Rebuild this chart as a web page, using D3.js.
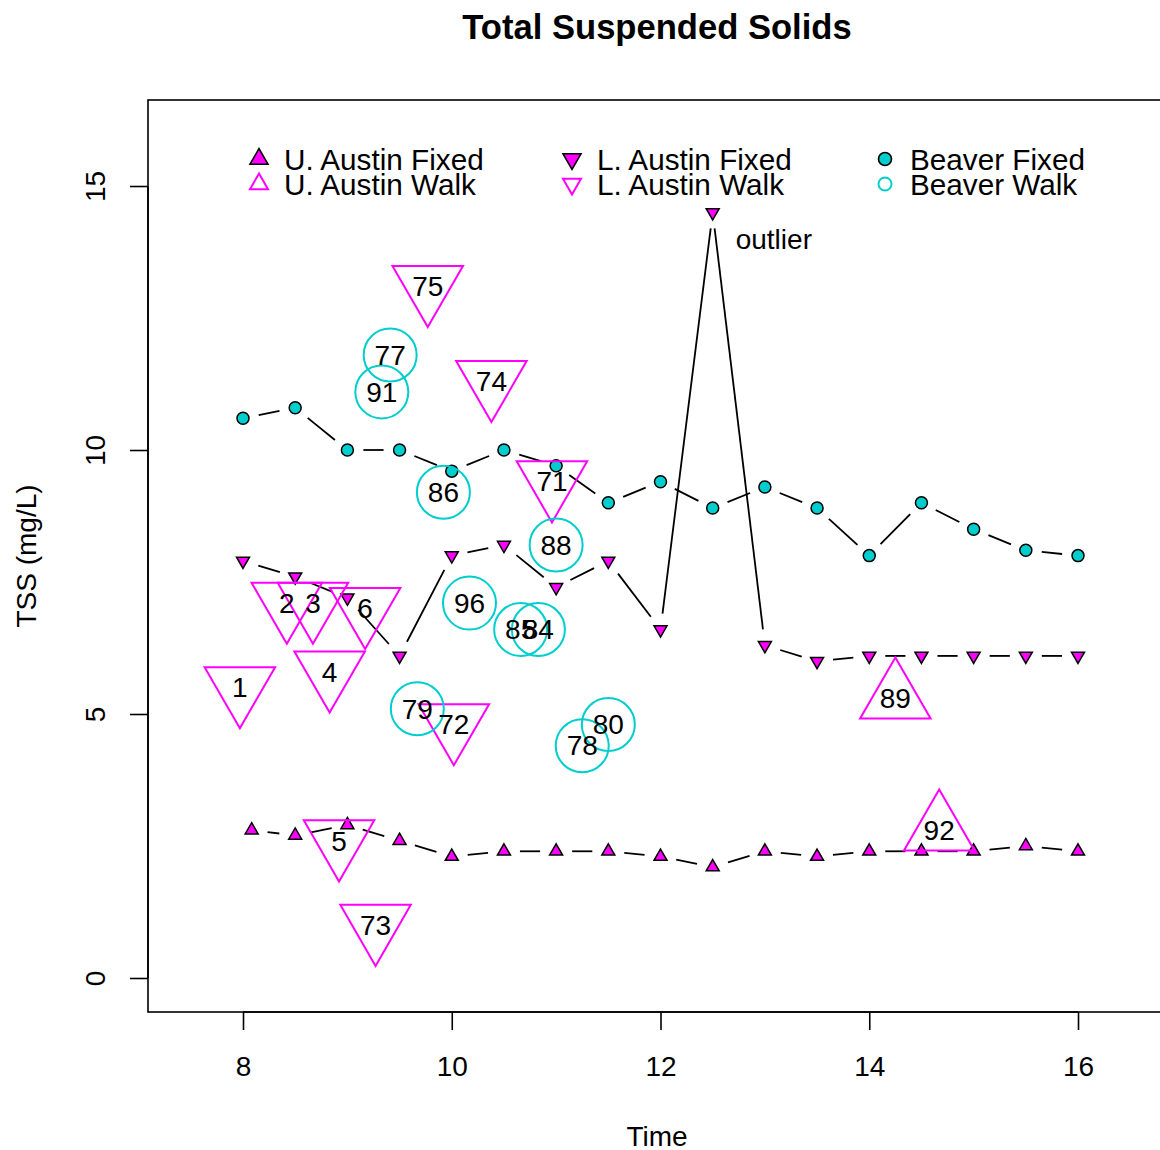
<!DOCTYPE html>
<html>
<head>
<meta charset="utf-8">
<script src="https://cdn.jsdelivr.net/npm/d3@7/dist/d3.min.js"></script>
<style>
  html, body { margin: 0; padding: 0; background: #fff; }
  svg { display: block; }
  text { font-family: "Liberation Sans", Arial, Helvetica, sans-serif; }
</style>
</head>
<body>
<svg id="chart" width="1160" height="1150"></svg>
<script>
// ---------------- DATA ----------------
const fixedTimes = [8, 8.5, 9, 9.5, 10, 10.5, 11, 11.5, 12, 12.5, 13, 13.5, 14, 14.5, 15, 15.5, 16];
const uAustinFixedTimes = [8.083, 8.5, 9, 9.5, 10, 10.5, 11, 11.5, 12, 12.5, 13, 13.5, 14, 14.5, 15, 15.5, 16];
const uAustinFixedTSS = [2.8, 2.7, 2.9, 2.6, 2.3, 2.4, 2.4, 2.4, 2.3, 2.1, 2.4, 2.3, 2.4, 2.4, 2.4, 2.5, 2.4];
const lAustinFixedTSS = [7.9, 7.6, 7.2, 6.1, 8.0, 8.2, 7.4, 7.9, 6.6, 14.5, 6.3, 6.0, 6.1, 6.1, 6.1, 6.1, 6.1];
const beaverFixedTSS  = [10.6, 10.8, 10.0, 10.0, 9.6, 10.0, 9.7, 9.0, 9.4, 8.9, 9.3, 8.9, 8.0, 9.0, 8.5, 8.1, 8.0];

const uAustinWalkID   = ["89", "92"];
const uAustinWalkTime = [14.25, 14.67];
const uAustinWalkTSS  = [5.3, 2.8];

const lAustinWalkID   = ["1", "2", "3", "4", "5", "6", "71", "72", "73", "74", "75"];
const lAustinWalkTime = [7.97, 8.42, 8.67, 8.83, 8.92, 9.17, 10.96, 10.02, 9.27, 10.38, 9.77];
const lAustinWalkTSS  = [5.5, 7.1, 7.1, 5.8, 2.6, 7.0, 9.4, 4.8, 1.0, 11.3, 13.1];

const beaverWalkID   = ["77", "78", "79", "80", "84", "85", "86", "88", "91", "96"];
const beaverWalkTime = [9.41, 11.25, 9.67, 11.5, 10.83, 10.66, 9.92, 11.0, 9.33, 10.17];
const beaverWalkTSS  = [11.8, 4.4, 5.1, 4.8, 6.6, 6.6, 9.2, 8.2, 11.1, 7.1];

const xTicks = [8, 10, 12, 14, 16];
const yTicks = [0, 5, 10, 15];
const legendLabels = ["U. Austin Fixed", "U. Austin Walk", "L. Austin Fixed", "L. Austin Walk", "Beaver Fixed", "Beaver Walk"];
const outlierNote = { time: 12.5, tss: 14.0, text: "outlier" };

// ---------------- LAYOUT ----------------
const MAGENTA = "#FF00FF";
const CYAN = "#00CDCD";
const plot = { left: 148, top: 100, right: 1166, bottom: 1012 };

const svg = d3.select("#chart");
const x = d3.scaleLinear().domain([7.0898, 16.843]).range([plot.left, plot.right]);
const y = d3.scaleLinear().domain([-0.644, 16.629]).range([plot.bottom, plot.top]);

// triangle path: centroid at (cx,cy), r = distance centroid->apex
function triPath(cx, cy, r, up) {
  const xc = r * 0.866;
  if (up) {
    return `M${cx},${cy - r}L${cx + xc},${cy + r / 2}L${cx - xc},${cy + r / 2}Z`;
  }
  return `M${cx},${cy + r}L${cx + xc},${cy - r / 2}L${cx - xc},${cy - r / 2}Z`;
}

// type="b" style line with gaps around points
function gappedLines(times, vals, gap) {
  const g = svg.append("g");
  for (let i = 0; i < times.length - 1; i++) {
    const x1 = x(times[i]), y1 = y(vals[i]), x2 = x(times[i + 1]), y2 = y(vals[i + 1]);
    const dx = x2 - x1, dy = y2 - y1, L = Math.hypot(dx, dy);
    if (L <= 2 * gap) continue;
    const ux = dx / L, uy = dy / L;
    g.append("line")
      .attr("x1", x1 + ux * gap).attr("y1", y1 + uy * gap)
      .attr("x2", x2 - ux * gap).attr("y2", y2 - uy * gap)
      .attr("stroke", "#000").attr("stroke-width", 1.8);
  }
}

// ---------------- TITLE & AXES ----------------
svg.append("text")
  .attr("x", (plot.left + plot.right) / 2).attr("y", 39)
  .attr("text-anchor", "middle").attr("font-size", 34.6).attr("font-weight", "bold")
  .text("Total Suspended Solids");

// box
svg.append("rect")
  .attr("x", plot.left).attr("y", plot.top)
  .attr("width", plot.right - plot.left).attr("height", plot.bottom - plot.top)
  .attr("fill", "none").attr("stroke", "#000").attr("stroke-width", 1.6);

// x axis
const xAxis = d3.axisBottom(x).tickValues(xTicks).tickSize(18).tickPadding(26).tickFormat(d3.format("d"));
const gx = svg.append("g").attr("transform", `translate(0,${plot.bottom})`).call(xAxis);
gx.select(".domain").remove();
gx.selectAll(".tick line").attr("stroke-width", 1.6);
gx.selectAll(".tick text").attr("font-size", 28).attr("font-family", "Liberation Sans, Arial, sans-serif").attr("fill", "#000");
gx.append("line").attr("x1", x(xTicks[0])).attr("x2", x(xTicks[xTicks.length - 1]))
  .attr("y1", 0).attr("y2", 0).attr("stroke", "#000").attr("stroke-width", 1.6);

// y axis
const yAxis = d3.axisLeft(y).tickValues(yTicks).tickSize(18).tickFormat(d3.format("d"));
const gy = svg.append("g").attr("transform", `translate(${plot.left},0)`).call(yAxis);
gy.select(".domain").remove();
gy.selectAll(".tick line").attr("stroke-width", 1.6);
gy.selectAll(".tick text")
  .attr("font-size", 28).attr("font-family", "Liberation Sans, Arial, sans-serif").attr("fill", "#000")
  .attr("text-anchor", "middle").attr("x", null).attr("dy", null)
  .attr("transform", "translate(-43,0) rotate(-90)");
gy.append("line").attr("y1", y(yTicks[0])).attr("y2", y(yTicks[yTicks.length - 1]))
  .attr("x1", 0).attr("x2", 0).attr("stroke", "#000").attr("stroke-width", 1.6);

svg.append("text")
  .attr("x", (plot.left + plot.right) / 2).attr("y", 1146)
  .attr("text-anchor", "middle").attr("font-size", 28).text("Time");
svg.append("text")
  .attr("transform", `translate(36,${(plot.top + plot.bottom) / 2}) rotate(-90)`)
  .attr("text-anchor", "middle").attr("font-size", 28).text("TSS (mg/L)");

// ---------------- FIXED SERIES ----------------
const GAP = 16;
gappedLines(uAustinFixedTimes, uAustinFixedTSS, GAP);
gappedLines(fixedTimes, lAustinFixedTSS, GAP);
gappedLines(fixedTimes, beaverFixedTSS, GAP);

const FR = 7.5;
svg.append("g").selectAll("path").data(uAustinFixedTSS).join("path")
  .attr("d", (d, i) => triPath(x(uAustinFixedTimes[i]), y(d), FR, true))
  .attr("fill", MAGENTA).attr("stroke", "#000").attr("stroke-width", 1.5);
svg.append("g").selectAll("path").data(lAustinFixedTSS).join("path")
  .attr("d", (d, i) => triPath(x(fixedTimes[i]), y(d), FR, false))
  .attr("fill", MAGENTA).attr("stroke", "#000").attr("stroke-width", 1.5);
svg.append("g").selectAll("circle").data(beaverFixedTSS).join("circle")
  .attr("cx", (d, i) => x(fixedTimes[i])).attr("cy", d => y(d)).attr("r", 6)
  .attr("fill", CYAN).attr("stroke", "#000").attr("stroke-width", 1.5);

// ---------------- WALK SERIES ----------------
const WR = 40.7;
const CR = 26.5;
svg.append("g").selectAll("path").data(uAustinWalkTSS).join("path")
  .attr("d", (d, i) => triPath(x(uAustinWalkTime[i]), y(d), WR, true))
  .attr("fill", "none").attr("stroke", MAGENTA).attr("stroke-width", 2);
svg.append("g").selectAll("path").data(lAustinWalkTSS).join("path")
  .attr("d", (d, i) => triPath(x(lAustinWalkTime[i]), y(d), WR, false))
  .attr("fill", "none").attr("stroke", MAGENTA).attr("stroke-width", 2);
svg.append("g").selectAll("circle").data(beaverWalkTSS).join("circle")
  .attr("cx", (d, i) => x(beaverWalkTime[i])).attr("cy", d => y(d)).attr("r", CR)
  .attr("fill", "none").attr("stroke", CYAN).attr("stroke-width", 2);

function idLabels(ids, times, vals) {
  svg.append("g").selectAll("text").data(ids).join("text")
    .attr("x", (d, i) => x(times[i])).attr("y", (d, i) => y(vals[i]))
    .attr("dy", "0.35em").attr("text-anchor", "middle").attr("font-size", 28)
    .text(d => d);
}
idLabels(uAustinWalkID, uAustinWalkTime, uAustinWalkTSS);
idLabels(lAustinWalkID, lAustinWalkTime, lAustinWalkTSS);
idLabels(beaverWalkID, beaverWalkTime, beaverWalkTSS);

svg.append("text")
  .attr("x", x(outlierNote.time) + 23).attr("y", y(outlierNote.tss))
  .attr("dy", "0.35em").attr("font-size", 28).text(outlierNote.text);

// ---------------- LEGEND ----------------
const legCols = [259, 572, 885];
const legRows = [159, 184];
const legend = svg.append("g");
legendLabels.forEach((lab, k) => {
  const col = Math.floor(k / 2), row = k % 2;
  const cx = legCols[col], cy = legRows[row];
  if (col < 2) {
    legend.append("path").attr("d", triPath(cx, cy, 10.4, col === 0))
      .attr("fill", row === 0 ? MAGENTA : "none")
      .attr("stroke", row === 0 ? "#000" : MAGENTA).attr("stroke-width", row === 0 ? 1.6 : 2);
  } else {
    legend.append("circle").attr("cx", cx).attr("cy", cy).attr("r", 6.5)
      .attr("fill", row === 0 ? CYAN : "none")
      .attr("stroke", row === 0 ? "#000" : CYAN).attr("stroke-width", row === 0 ? 1.6 : 2);
  }
  legend.append("text").attr("x", cx + 25).attr("y", cy + 1).attr("dy", "0.35em")
    .attr("font-size", 29.7).text(lab);
});
</script>
</body>
</html>
